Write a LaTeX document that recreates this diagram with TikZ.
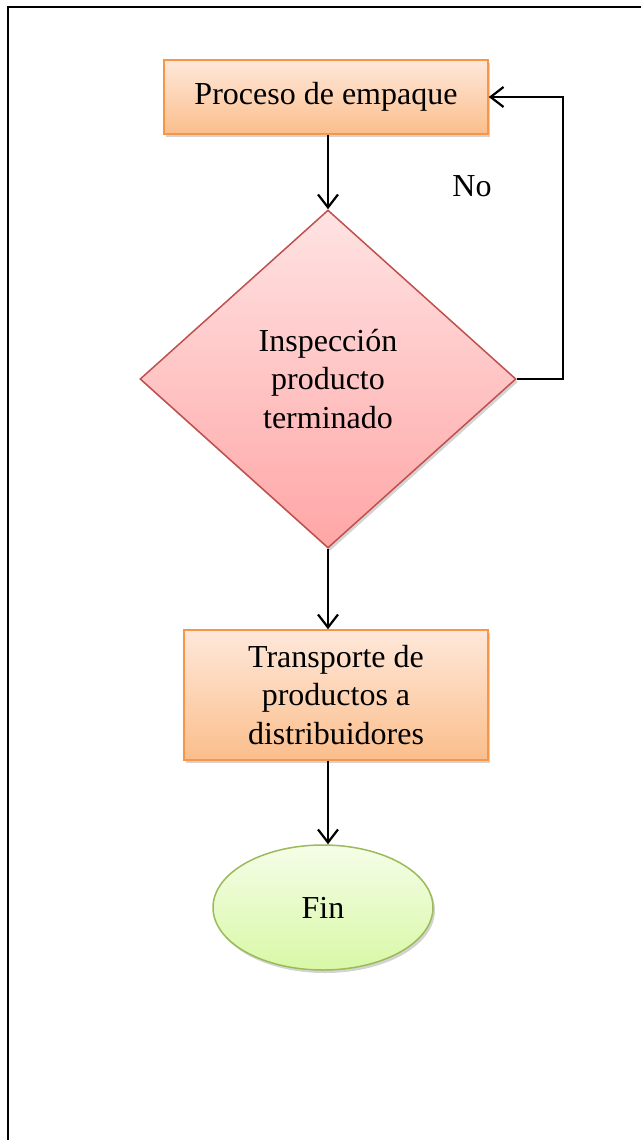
\documentclass[tikz,border=0pt]{standalone}
\usepackage{fontspec}
\setmainfont{Liberation Serif}
\usetikzlibrary{shapes.geometric,arrows.meta,shadows}
\definecolor{orgtop}{HTML}{FEE8DA}
\definecolor{orgbot}{HTML}{FBBE8C}
\definecolor{orgline}{HTML}{F79646}
\definecolor{redtop}{HTML}{FFE3E3}
\definecolor{redbot}{HTML}{FFA6A6}
\definecolor{redline}{HTML}{C0504D}
\definecolor{grntop}{HTML}{F5FDE8}
\definecolor{grnbot}{HTML}{D8F8A6}
\definecolor{grnline}{HTML}{9BBB59}
\tikzset{
  big/.style={font=\fontsize{32}{38.5}\selectfont},
  procbox/.style={big, draw=orgline, line width=1.5pt, top color=orgtop, bottom color=orgbot,
    rectangle, inner sep=0pt, align=center,
    drop shadow={shadow xshift=2pt, shadow yshift=-3pt, opacity=0.35}},
  decbox/.style={big, draw=redline, line width=1.5pt, top color=redtop, bottom color=redbot,
    diamond, inner sep=0pt, align=center,
    drop shadow={shadow xshift=2pt, shadow yshift=-3pt, opacity=0.35}},
  endbox/.style={big, draw=grnline, line width=1.5pt, top color=grntop, bottom color=grnbot,
    ellipse, inner sep=0pt, align=center,
    drop shadow={shadow xshift=2pt, shadow yshift=-3pt, opacity=0.35}},
  conn/.style={line width=2.2pt, -{Straight Barb[length=13pt,width=20pt,line width=2.2pt]}},
}
\begin{document}
\begin{tikzpicture}[x=1pt,y=-1pt]
\useasboundingbox (0,0) rectangle (641,1140);
% frame
\draw[line width=2.2pt] (8,1140) -- (8,7) -- (641,7);
% nodes
\node[procbox, minimum width=324pt, minimum height=74pt] (p1) at (326,97) {Proceso de empaque};
\node[decbox, minimum width=376pt, minimum height=338pt] (d1) at (328,379) {Inspección\\producto\\terminado};
\node[procbox, minimum width=304pt, minimum height=130pt] (p2) at (336,695) {Transporte de\\productos a\\distribuidores};
\node[endbox, minimum width=220pt, minimum height=125pt] (e1) at (323,907.5) {Fin};
\node[big] (no) at (472,186) {No};
\coordinate (c1) at (563,382);
\coordinate (c2) at (563,97);
% connectors
\draw[conn] (p1.south -| d1.north) -- (d1.north);
\draw[conn] (d1.south) -- (d1.south |- p2.north);
\draw[conn] (p2.south -| d1.south) -- (e1.north -| d1.south);
\draw[conn] (d1.east) -- (d1.east -| c1) -- (c2) -- (p1.east);
\end{tikzpicture}
\end{document}
